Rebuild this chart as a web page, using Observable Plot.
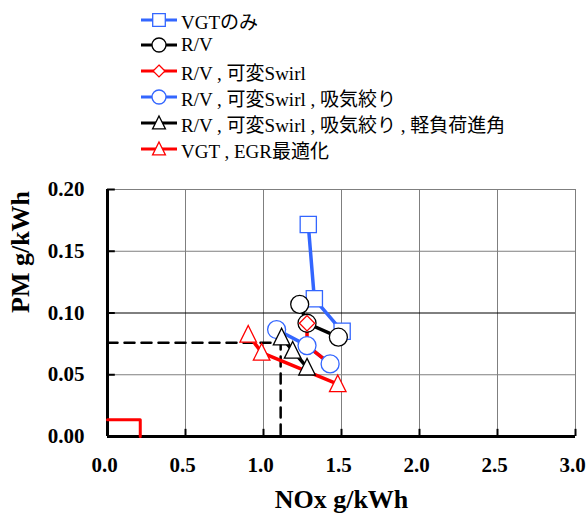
<!DOCTYPE html>
<html>
<head>
<meta charset="utf-8">
<script src="https://cdn.jsdelivr.net/npm/d3@7"></script>
<script src="https://cdn.jsdelivr.net/npm/@observablehq/plot@0.6"></script>
<style>
  html, body { margin: 0; padding: 0; background: #fff; }
  #wrap { position: relative; width: 587px; height: 519px; overflow: hidden; }
  #legend { position: absolute; left: 0; top: 0; width: 587px; height: 170px; }
  .row { position: absolute; left: 141px; height: 26px; display: flex; align-items: center;
         font-family: "Liberation Serif", "Times New Roman", Times, "Noto Sans CJK JP", serif; font-size: 19px; color: #000; white-space: nowrap; }
  .row svg { margin-right: 4px; }
  #chart { position: absolute; left: 0; top: 170px; }
</style>
</head>
<body>
<div id="wrap">
  <div id="legend"></div>
  <div id="chart"></div>
</div>
<script>
// ---- data ----
const seriesNames = ["VGTのみ", "R/V", "R/V , 可変Swirl", "R/V , 可変Swirl , 吸気絞り", "R/V , 可変Swirl , 吸気絞り , 軽負荷進角", "VGT , EGR最適化"];
const seriesColors = ["#3366FF", "#000000", "#FF0000", "#3366FF", "#000000", "#FF0000"];
const seriesSymbols = ["square", "circle", "diamond", "circle", "triangle", "triangle"];

const vgtNOx = [1.287, 1.326, 1.504];
const vgtPM = [0.1716, 0.1115, 0.0852];
const rvNOx = [1.232, 1.279, 1.480];
const rvPM = [0.107, 0.0917, 0.0804];
const swirlNOx = [1.279, 1.279, 1.427];
const swirlPM = [0.0917, 0.0736, 0.0588];
const throttleNOx = [1.084, 1.279, 1.427];
const throttlePM = [0.0866, 0.0736, 0.0588];
const advanceNOx = [1.116, 1.187, 1.279];
const advancePM = [0.0804, 0.0696, 0.056];
const egrNOx = [0.902, 0.988, 1.476];
const egrPM = [0.0826, 0.068, 0.0425];

const targetNOx = 1.11, targetPM = 0.076;
const limitNOx = 0.21, limitPM = 0.0135;

const xTicks = [0, 0.5, 1.0, 1.5, 2.0, 2.5, 3.0];
const yTicks = [0, 0.05, 0.10, 0.15, 0.20];
const xLabel = "NOx g/kWh";
const yLabel = "PM g/kWh";

// ---- build table ----
const seriesX = [vgtNOx, rvNOx, swirlNOx, throttleNOx, advanceNOx, egrNOx];
const seriesY = [vgtPM, rvPM, swirlPM, throttlePM, advancePM, egrPM];
const rows = [];
seriesNames.forEach((name, i) => {
  seriesX[i].forEach((x, j) => rows.push({series: i, name, x, y: seriesY[i][j]}));
});

// custom symbols
function makeSymbol(kind) {
  return {
    draw(ctx, size) {
      const r = Math.sqrt(size / Math.PI);
      if (kind === "square") {
        const h = r * 0.9;
        ctx.moveTo(-h, -h); ctx.lineTo(h, -h); ctx.lineTo(h, h); ctx.lineTo(-h, h); ctx.closePath();
      } else if (kind === "circle") {
        ctx.moveTo(r, 0); ctx.arc(0, 0, r, 0, 2 * Math.PI); ctx.closePath();
      } else if (kind === "diamond") {
        const h = r * 0.85;
        ctx.moveTo(0, -h); ctx.lineTo(h, 0); ctx.lineTo(0, h); ctx.lineTo(-h, 0); ctx.closePath();
      } else if (kind === "triangle") {
        const w = r * 0.92;
        ctx.moveTo(0, -r); ctx.lineTo(w, r * 0.85); ctx.lineTo(-w, r * 0.85); ctx.closePath();
      }
    }
  };
}
const symObjs = seriesSymbols.map(makeSymbol);

// ---- legend ----
const legend = document.getElementById("legend");
const rowY = [20, 45, 71, 97, 123, 149];
seriesNames.forEach((name, i) => {
  const div = document.createElement("div");
  div.className = "row";
  div.style.top = (rowY[i] - 13) + "px";
  const svg = d3.create("svg").attr("width", 36).attr("height", 26);
  svg.append("line").attr("x1", 0).attr("x2", 36).attr("y1", 13).attr("y2", 13)
    .attr("stroke", seriesColors[i]).attr("stroke-width", 3);
  const sz = Math.PI * 7 * 7;
  svg.append("path").attr("transform", "translate(18,13)")
    .attr("d", d3.symbol(symObjs[i], sz)())
    .attr("fill", "#fff").attr("stroke", seriesColors[i]).attr("stroke-width", 1.3);
  div.appendChild(svg.node());
  const span = document.createElement("span");
  span.textContent = name;
  div.appendChild(span);
  legend.appendChild(div);
});

// ---- chart ----
const serif = "Liberation Serif, Times New Roman, Times, serif";
const lineOrder = [0, 1, 3, 2, 4, 5];
const markOrder = [0, 1, 2, 3, 4, 5];
const marks = [];

// grid
marks.push(Plot.ruleX(xTicks.filter(d => d > 0), {stroke: "#7f7f7f", strokeWidth: 1}));
marks.push(Plot.ruleY(yTicks.filter(d => d > 0), {stroke: d => d === 0.10 ? "#000" : "#7f7f7f", strokeWidth: 1}));
// inward ticks
marks.push(Plot.ruleX(xTicks, {x: d => d, y1: 0, y2: 0.0058, stroke: "#000", strokeWidth: 2}));
marks.push(Plot.ruleY(yTicks, {y: d => d, x1: 0, x2: 0.05, stroke: "#000", strokeWidth: 2}));
// axis lines
marks.push(Plot.ruleX([0], {stroke: "#000", strokeWidth: 3}));
marks.push(Plot.ruleY([0], {stroke: "#000", strokeWidth: 3}));
// limit box
marks.push(Plot.line([{x: 0, y: limitPM}, {x: limitNOx, y: limitPM}, {x: limitNOx, y: 0}],
  {x: "x", y: "y", stroke: "#FF0000", strokeWidth: 3}));
// target dashed
marks.push(Plot.line([{x: 0, y: targetPM}, {x: targetNOx, y: targetPM}, {x: targetNOx, y: 0}],
  {x: "x", y: "y", stroke: "#000", strokeWidth: 2.5, strokeDasharray: "10,7"}));

// series lines
lineOrder.forEach(i => {
  marks.push(Plot.line(rows.filter(r => r.series === i), {x: "x", y: "y", stroke: seriesColors[i], strokeWidth: 3.5}));
});
// series markers
markOrder.forEach(i => {
  marks.push(Plot.dot(rows.filter(r => r.series === i), {
    x: "x", y: "y", symbol: () => symObjs[i], r: 9, fill: "#fff",
    stroke: seriesColors[i], strokeWidth: 1.3
  }));
});

// tick labels
marks.push(Plot.text(xTicks, {x: d => d, frameAnchor: "bottom", dy: 35, dx: -3, text: d => d3.format(".1f")(d),
  fontFamily: serif, fontSize: 21, fontWeight: "bold", fill: "#000"}));
marks.push(Plot.text(yTicks, {y: d => d, frameAnchor: "left", dx: -23, textAnchor: "end", text: d => d3.format(".2f")(d),
  fontFamily: serif, fontSize: 21, fontWeight: "bold", fill: "#000"}));
// axis titles
marks.push(Plot.text([xLabel], {frameAnchor: "bottom", dy: 71, text: d => d,
  fontFamily: serif, fontSize: 26, fontWeight: "bold", fill: "#000"}));
marks.push(Plot.text([yLabel], {frameAnchor: "left", dx: -87, rotate: -90, text: d => d,
  fontFamily: serif, fontSize: 26, fontWeight: "bold", fill: "#000"}));

const chart = Plot.plot({
  width: 587,
  height: 349,
  marginTop: 19,
  marginBottom: 83,
  marginLeft: 107,
  marginRight: 12,
  x: {domain: [0, 3], axis: null},
  y: {domain: [0, 0.2], axis: null},
  symbol: {type: "identity"},
  style: {background: "#fff", overflow: "visible"},
  marks
});
document.getElementById("chart").appendChild(chart);
</script>
</body>
</html>
